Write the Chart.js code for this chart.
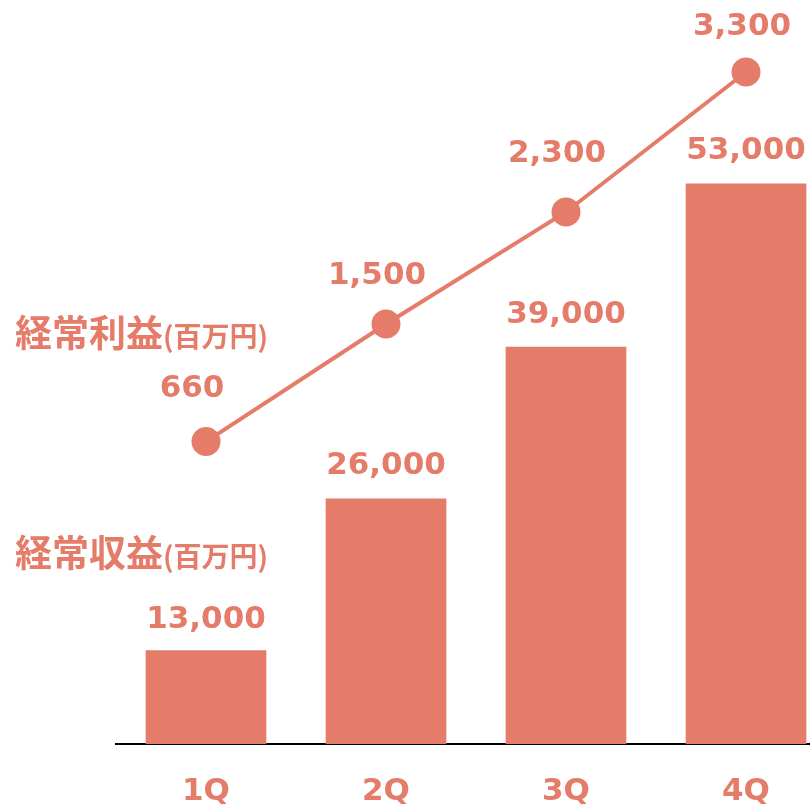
<!DOCTYPE html>
<html>
<head>
<meta charset="utf-8">
<script src="https://cdn.jsdelivr.net/npm/chart.js@4/dist/chart.umd.min.js"></script>
<style>
    html, body { margin: 0; padding: 0; background: #fff; overflow: hidden; }
    #wrap { position: relative; width: 810px; height: 808px; overflow: hidden; }
    #chart { position: absolute; left: 0; top: 0; }
    .title {
        position: absolute; left: 15px; color: #e57b69; white-space: nowrap;
        font-family: "Noto Sans CJK JP", sans-serif; font-weight: bold; font-size: 37px; line-height: 1;
    }
    .title small { font-size: 28px; }
</style>
</head>
<body>
<div id="wrap">
    <canvas id="chart" width="840" height="808"></canvas>
    <div class="title" style="top:313px">経常利益<small>(百万円)</small></div>
    <div class="title" style="top:533px">経常収益<small>(百万円)</small></div>
</div>
<script>
/* ---------------------------
    DATA
------------------------------ */
const quarters = ["1Q", "2Q", "3Q", "4Q"];
const revenue = [13000, 26000, 39000, 53000];   // 経常収益
const profit = [660, 1500, 2300, 3300];         // 経常利益

const COLOR = "#e57b69";
const FONT = "DejaVu Sans";

/* ---------------------------
    VALUE LABELS
------------------------------ */
const valueLabels = {
    id: "valueLabels",
    afterDatasetsDraw(chart, args, opts) {
        const ctx = chart.ctx;
        ctx.save();
        ctx.fillStyle = COLOR;
        ctx.font = "bold 31px " + FONT;
        ctx.textAlign = "center";
        ctx.textBaseline = "middle";
        chart.data.datasets.forEach((ds, i) => {
            const meta = chart.getDatasetMeta(i);
            const off = opts.offsets[ds.type];
            meta.data.forEach((el, j) => {
                const o = off[j];
                ctx.fillText(ds.data[j].toLocaleString("en-US"), el.x + o[0], el.y + o[1]);
            });
        });
        ctx.restore();
    }
};

new Chart(document.getElementById("chart"), {
    data: {
        labels: quarters,
        datasets: [
            {
                type: "line",
                data: profit,
                yAxisID: "y2",
                borderColor: COLOR,
                borderWidth: 4,
                pointRadius: 14.5,
                pointBackgroundColor: COLOR,
                pointBorderWidth: 0,
                clip: false,
                order: 0
            },
            {
                type: "bar",
                data: revenue,
                yAxisID: "y",
                backgroundColor: COLOR,
                barThickness: 120,
                order: 1
            }
        ]
    },
    options: {
        responsive: false,
        animation: false,
        layout: { autoPadding: false, padding: { left: 116, right: 4, top: 0, bottom: 0 } },
        plugins: {
            legend: { display: false },
            tooltip: { enabled: false },
            valueLabels: {
                offsets: {
                    bar: [[0, -31], [0, -33], [0, -32], [0, -33]],
                    line: [[-14, -53], [-9, -48], [-9, -58], [-4, -45]]
                }
            }
        },
        scales: {
            x: {
                grid: { display: false, drawTicks: false },
                border: { display: true, color: "#000", width: 2 },
                ticks: { color: COLOR, font: { family: FONT, size: 31, weight: "bold" }, padding: 29 },
                afterFit: (scale) => { scale.height = 64; }
            },
            y: { display: false, min: 5000, max: 68750 },
            y2: { display: false, min: -1500, max: 3814 }
        }
    },
    plugins: [valueLabels]
});
</script>
</body>
</html>
